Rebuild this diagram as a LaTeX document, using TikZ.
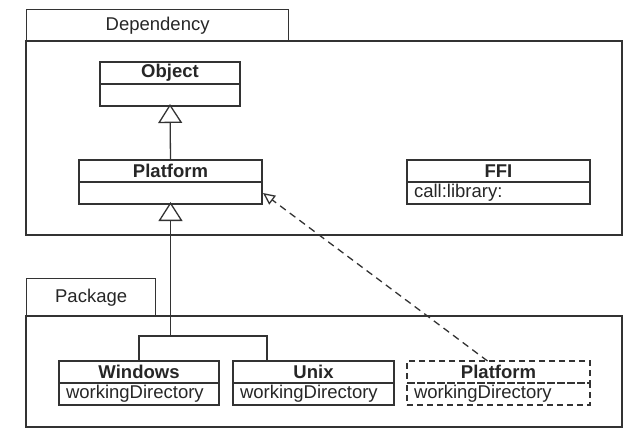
\documentclass[tikz,border=0pt]{standalone}
\usepackage{fontspec}
\setmainfont{Liberation Sans}
\usetikzlibrary{positioning,arrows.meta,calc}

\newcommand{\umlfont}{\fontsize{18.5}{21}\selectfont}

\tikzset{
  umlline/.style={draw=black!80, line width=1.3pt},
  pkgtab/.style={umlline, inner sep=0pt, anchor=north west, font=\umlfont, text=black!85},
  classhead/.style={umlline, inner sep=0pt, outer sep=0pt, minimum height=22pt, minimum width=#1,
    anchor=north west, font=\umlfont\bfseries, text=black!85},
  classbody/.style={umlline, inner xsep=7pt, inner ysep=0pt, outer sep=0pt, minimum height=22pt,
    text width=#1-14pt, align=left, font=\umlfont, text=black!85},
  gen/.style={umlline, -{Triangle[open, length=19pt, width=24pt]}},
  realize/.style={umlline, dash pattern=on 7pt off 5pt, -{Triangle[open, length=12pt, width=11pt]}},
  dashedclass/.style={dash pattern=on 6pt off 4pt}
}

\begin{document}
\begin{tikzpicture}[x=1pt, y=-1pt]
\useasboundingbox (0,0) rectangle (642,431);

% packages
\node[pkgtab, minimum width=262pt, minimum height=32pt] (deptab) at (26,9) {Dependency};
\draw[umlline] (26,41) rectangle (622,235);
\node[pkgtab, minimum width=129pt, minimum height=38pt] (pkgtab) at (26,278) {Package};
\draw[umlline] (26,316) rectangle (622,427);

% classes in Dependency
\node[classhead=140pt] (objh) at (100,62) {Object};
\node[classbody=140pt, below=0pt of objh] (objb) {};
\node[classhead=183pt] (plath) at (79,160) {Platform};
\node[classbody=183pt, below=0pt of plath] (platb) {};
\node[classhead=183pt] (ffih) at (407,160) {FFI};
\node[classbody=183pt, below=0pt of ffih] (ffib) {call:library:};

% classes in Package
\node[classhead=160pt] (winh) at (59,361) {Windows};
\node[classbody=160pt, below=0pt of winh] (winb) {workingDirectory};
\node[classhead=161pt] (unixh) at (233,361) {Unix};
\node[classbody=161pt, below=0pt of unixh] (unixb) {workingDirectory};
\node[classhead=183pt, dashedclass] (p2h) at (407,361) {Platform};
\node[classbody=183pt, dashedclass, below=0pt of p2h] (p2b) {workingDirectory};

% connectors
\draw[gen] (plath.north) -- ([yshift=2pt]objb.south);
\coordinate (split) at (170.5,336);
\draw[umlline] (winh.north) |- (split);
\draw[umlline] ([xshift=34pt]unixh.north west) |- (split);
\draw[gen] (split) -- ([yshift=2pt]platb.south);
\draw[realize] ($(p2h.north west)!0.44!(p2h.north east)$) -- ([xshift=1pt]platb.east);
\end{tikzpicture}
\end{document}
